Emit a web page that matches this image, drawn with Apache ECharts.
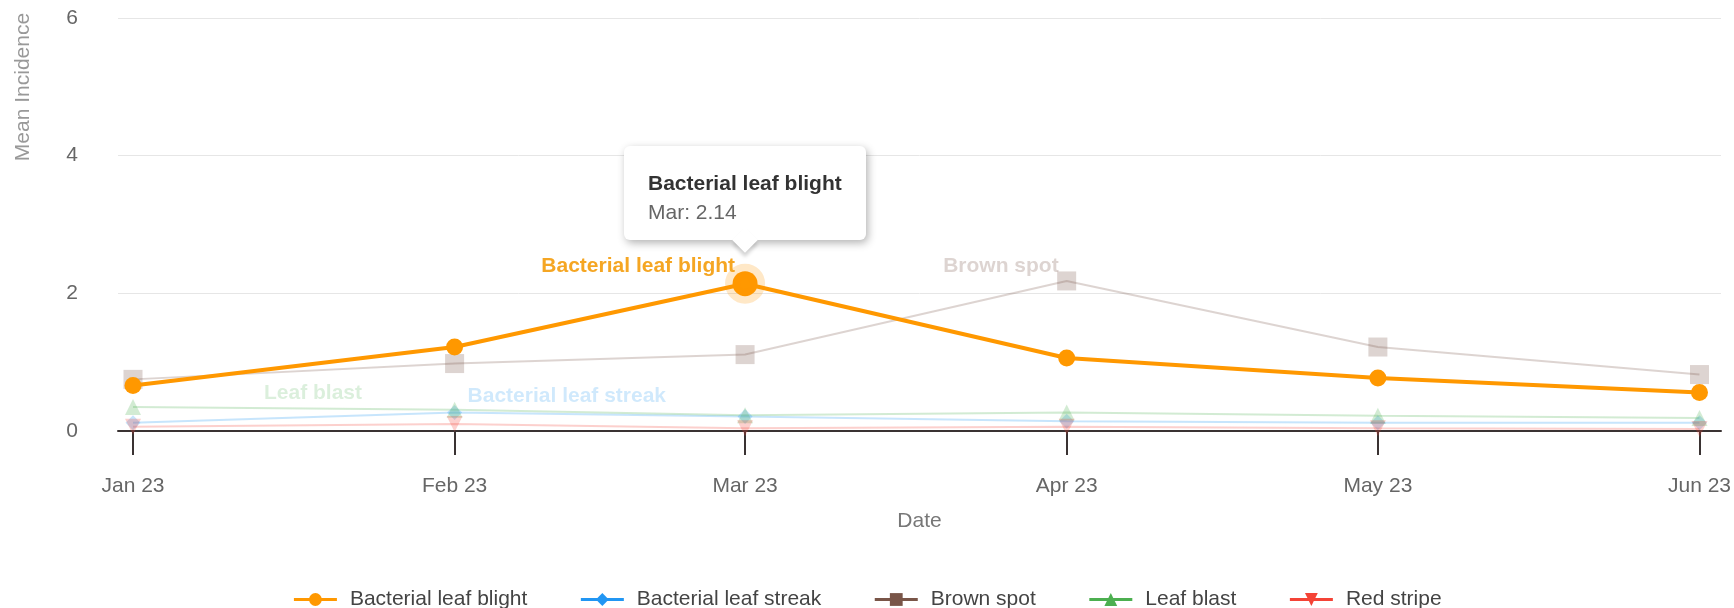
<!DOCTYPE html>
<html>
<head>
<meta charset="utf-8">
<script src="https://cdn.jsdelivr.net/npm/echarts@6/dist/echarts.min.js"></script>
<style>
  html, body { margin: 0; padding: 0; background: #fff; }
  #main { width: 1734px; height: 608px; }
</style>
</head>
<body>
<div id="main"></div>
<script>
  // monthly mean incidence
  var months = ['2023-01-01', '2023-02-01', '2023-03-01', '2023-04-01', '2023-05-01', '2023-06-01'];
  var monthNames = ['Jan', 'Feb', 'Mar', 'Apr', 'May', 'Jun', 'Jul', 'Aug', 'Sep', 'Oct', 'Nov', 'Dec'];
  var yTicks = [0, 2, 4, 6];

  var blight = [0.66, 1.22, 2.14, 1.06, 0.77, 0.56];
  var streak = [0.12, 0.27, 0.21, 0.14, 0.12, 0.12];
  var brownSpot = [0.75, 0.98, 1.11, 2.18, 1.22, 0.82];
  var leafBlast = [0.35, 0.31, 0.23, 0.27, 0.22, 0.19];
  var redStripe = [0.06, 0.10, 0.04, 0.06, 0.04, 0.03];

  var FONT = '"Liberation Sans", Arial, Helvetica, sans-serif';
  var DAY = 86400000;
  var FADE = 0.25;

  function monthOfIndex(i) {
    return monthNames[parseInt(months[i].slice(5, 7), 10) - 1];
  }

  function seriesLabel(name, color, align, offset) {
    return {
      show: true,
      position: 'inside',
      align: align,
      verticalAlign: 'middle',
      offset: offset,
      formatter: name,
      fontFamily: FONT,
      fontSize: 21,
      fontWeight: 'bold',
      color: color
    };
  }

  function makeSeries(name, values, color, symbol, size, opts) {
    var data = months.map(function (d, i) {
      var item = { value: [d, values[i]] };
      if (opts.labelAt === i) item.label = opts.label;
      if (opts.hoverAt === i) {
        item.symbolSize = 25;
        item.itemStyle = { borderColor: 'rgba(255,152,0,0.22)', borderWidth: 15 };
      }
      return item;
    });
    var op = opts.faded ? FADE : 1;
    return {
      name: name,
      type: 'line',
      xAxisIndex: 0,
      yAxisIndex: 0,
      data: data,
      symbol: symbol,
      symbolSize: size,
      symbolRotate: opts.rotate || 0,
      z: opts.z || 2,
      color: color,
      lineStyle: { width: opts.width || 2, color: color, opacity: op },
      itemStyle: { color: color, opacity: op },
      emphasis: { disabled: true }
    };
  }

  var myChart = echarts.init(document.getElementById('main'));

  var option = {
    animation: false,
    textStyle: { fontFamily: FONT },
    grid: [
      { left: 133, right: 31, top: 18, bottom: 177 },  // plot area (Jan..Jun)
      { left: 118, right: 13, top: 18, bottom: 177 }   // frame: gridlines + axis line
    ],
    xAxis: [{
      type: 'time',
      gridIndex: 0,
      min: months[0],
      max: months[months.length - 1],
      minInterval: 28 * DAY,
      maxInterval: 31 * DAY,
      axisLine: { show: false },
      axisTick: { show: true, length: 24, lineStyle: { color: '#3a3333', width: 2 } },
      axisLabel: {
        margin: 45,
        fontSize: 21,
        color: '#666',
        showMinLabel: true,
        showMaxLabel: true,
        formatter: function (v) {
          var d = new Date(v);
          return monthNames[d.getMonth()] + ' ' + String(d.getFullYear()).slice(2);
        }
      },
      splitLine: { show: false }
    }, {
      type: 'value',
      gridIndex: 1,
      min: 0,
      max: 1,
      name: 'Date',
      nameLocation: 'middle',
      nameGap: 80,
      nameTextStyle: { fontSize: 21, color: '#777', fontFamily: FONT },
      axisLine: { show: true, lineStyle: { color: '#3a3333', width: 2 } },
      axisTick: { show: false },
      axisLabel: { show: false },
      splitLine: { show: false }
    }],
    yAxis: [{
      type: 'value',
      gridIndex: 0,
      min: yTicks[0],
      max: yTicks[yTicks.length - 1],
      interval: 2,
      show: false
    }, {
      type: 'value',
      gridIndex: 1,
      min: yTicks[0],
      max: yTicks[yTicks.length - 1],
      interval: 2,
      axisLine: { show: false },
      axisTick: { show: false },
      axisLabel: { margin: 40, fontSize: 21, color: '#666' },
      splitLine: { lineStyle: { color: '#e6e6e6', width: 1 } }
    }],
    graphic: [{
      type: 'text',
      x: 23,
      y: 87,
      rotation: Math.PI / 2,
      style: {
        text: 'Mean Incidence',
        fill: '#999',
        fontSize: 21,
        fontFamily: FONT,
        align: 'center',
        verticalAlign: 'middle'
      }
    }],
    legend: {
      left: 'center',
      top: 584,
      itemWidth: 43,
      itemHeight: 16,
      itemGap: 52,
      itemStyle: { opacity: 1 },
      lineStyle: { opacity: 1, width: 3 },
      textStyle: { fontSize: 21, color: '#444', fontFamily: FONT, padding: [0, 0, 0, 8] }
    },
    tooltip: {
      trigger: 'item',
      alwaysShowContent: true,
      transitionDuration: 0,
      backgroundColor: '#fff',
      borderWidth: 0,
      padding: [22, 24, 14, 24],
      textStyle: { fontSize: 21, fontFamily: FONT, color: '#333' },
      extraCssText: 'box-shadow: 2px 3px 8px rgba(0,0,0,0.3); border-radius: 6px;',
      position: function (point, params, dom, rect, size) {
        return [point[0] - size.contentSize[0] / 2, point[1] - 138];
      },
      formatter: function (p) {
        return '<div style="font-weight:bold;color:#333;line-height:29px">' + p.seriesName + '</div>' +
          '<div style="color:#666;line-height:29px">' + monthOfIndex(p.dataIndex) + ': ' + p.value[1] + '</div>' +
          '<div style="position:absolute;left:50%;bottom:-9px;width:18px;height:18px;margin-left:-9px;' +
          'background:#fff;transform:rotate(45deg);box-shadow:3px 3px 4px rgba(0,0,0,0.18)"></div>';
      }
    },
    series: [
      makeSeries('Bacterial leaf blight', blight, '#FF9800', 'circle', 17, {
        width: 4, z: 5, hoverAt: 2, labelAt: 2,
        label: seriesLabel('Bacterial leaf blight', '#f5a623', 'right', [-10, -17])
      }),
      // faded series: their labels also take the 0.25 item opacity
      makeSeries('Bacterial leaf streak', streak, '#2196F3', 'diamond', 15, {
        faded: true, labelAt: 1,
        label: seriesLabel('Bacterial leaf streak', 'rgba(33,150,243,0.85)', 'left', [13, -16])
      }),
      makeSeries('Brown spot', brownSpot, '#795548', 'rect', 19, {
        faded: true, labelAt: 3,
        label: seriesLabel('Brown spot', '#795548', 'right', [-8, -15])
      }),
      makeSeries('Leaf blast', leafBlast, '#4CAF50', 'triangle', 16, {
        faded: true, labelAt: 0,
        label: seriesLabel('Leaf blast', 'rgba(76,175,80,0.8)', 'left', [131, -14])
      }),
      makeSeries('Red stripe', redStripe, '#F44336', 'triangle', 16, {
        faded: true, rotate: 180
      })
    ]
  };

  myChart.setOption(option);
  myChart.dispatchAction({ type: 'showTip', seriesIndex: 0, dataIndex: 2 });
</script>
</body>
</html>
